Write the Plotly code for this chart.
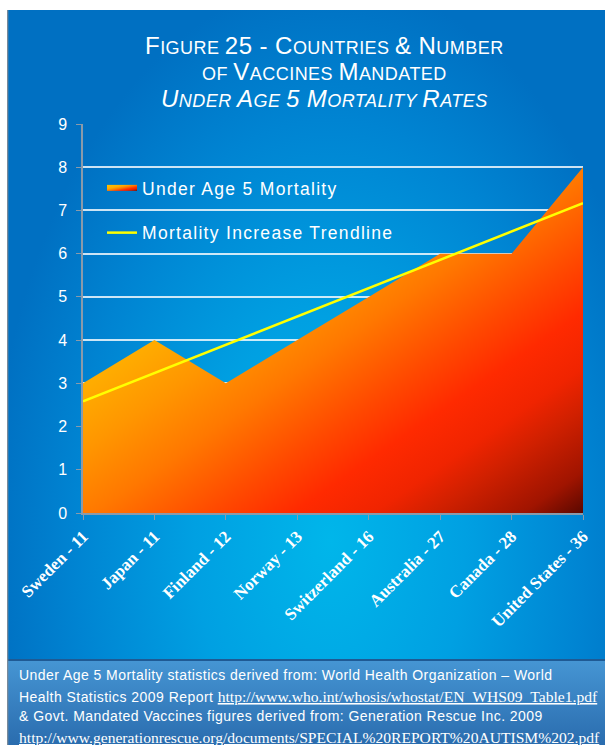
import base64
import numpy as np
import plotly.graph_objects as go

# ---------------- data ----------------
categories = ["Sweden - 11", "Japan - 11", "Finland - 12", "Norway - 13",
              "Switzerland - 16", "Australia - 27", "Canada - 28", "United States - 36"]
mortality = [3, 4, 3, 4, 5, 6, 6, 8]
y_ticks = [0, 1, 2, 3, 4, 5, 6, 7, 8, 9]
series_names = ["Under Age 5 Mortality", "Mortality Increase Trendline"]

# linear trendline (least squares) of the mortality series
idx = np.arange(len(mortality))
slope, intercept = np.polyfit(idx, mortality, 1)
trend_x = [categories[0], categories[-1]]
trend_y = [intercept, intercept + slope * idx[-1]]

# ---------------- geometry ----------------
W, H = 605, 745
L, R, T, B = 83, 583, 124, 513          # plot area pixels


def px(x):
    return (x - L) / (R - L)


def py(y):
    return (B - y) / (B - T)


SANS = "'Liberation Sans', Arial, sans-serif"
SERIF = "'Liberation Serif', 'Times New Roman', serif"

area_stops = [[0.0, "#FFC400"], [0.32, "#FFAC00"], [0.41, "#FF9600"], [0.51, "#FF7800"],
              [0.63, "#FF4800"], [0.71, "#FF2A00"], [0.79, "#F02400"], [0.85, "#D02000"],
              [0.94, "#A01400"], [1.0, "#5A0800"]]


def svg_uri(svg):
    return "data:image/svg+xml;base64," + base64.b64encode(svg.encode()).decode()


panel_svg = """<svg xmlns="http://www.w3.org/2000/svg" width="598" height="649" viewBox="0 0 598 649" preserveAspectRatio="none">
<defs><radialGradient id="r" gradientUnits="userSpaceOnUse" cx="0" cy="0" r="1" gradientTransform="translate(323,530) scale(340,560)">
<stop offset="0" stop-color="#00B6EA"/><stop offset="0.4" stop-color="#00A0E2"/><stop offset="0.75" stop-color="#0084D2"/><stop offset="1" stop-color="#0070C2"/></radialGradient></defs>
<rect width="598" height="649" fill="#0070C2"/>
<rect width="598" height="649" fill="url(#r)"/>
<rect x="0" y="0" width="1.3" height="649" fill="#7a8a9a"/>
</svg>"""

caption_svg = """<svg xmlns="http://www.w3.org/2000/svg" width="598" height="86" viewBox="0 0 598 86" preserveAspectRatio="none">
<defs><linearGradient id="c" x1="0" y1="0" x2="0" y2="1">
<stop offset="0" stop-color="#4696D4"/><stop offset="1" stop-color="#2A6CAE"/></linearGradient></defs>
<rect width="598" height="86" fill="url(#c)"/>
<rect width="598" height="2" fill="#1F5A94"/>
<rect x="0" y="0" width="1.3" height="86" fill="#7a8a9a"/>
</svg>"""

fig = go.Figure()

leg_ls = "letter-spacing:1.3px"
fig.add_trace(go.Scatter(
    x=categories, y=mortality, mode="none", fill="tozeroy",
    fillgradient=dict(type="horizontal", colorscale=area_stops),
    name=f'<span style="{leg_ls}">' + series_names[0] + '</span>',
    legendgroup="a", hoverinfo="skip"))

fig.add_trace(go.Scatter(
    x=trend_x, y=trend_y, mode="lines", line=dict(color="#FFFF00", width=2.5),
    name=f'<span style="{leg_ls}">' + series_names[1] + '</span>',
    legendgroup="b", hoverinfo="skip"))

ls = "letter-spacing:0.45px"
big = 'font-size:24px'
title_lines = [
    f'<span style="{ls}"><span style="{big}">F</span>IGURE <span style="{big}">25 - C</span>OUNTRIES '
    f'<span style="{big}">&amp; N</span>UMBER</span>',
    f'<span style="{ls}">OF <span style="{big}">V</span>ACCINES <span style="{big}">M</span>ANDATED</span>',
    f'<i><span style="{ls}"><span style="{big}">U</span>NDER <span style="{big}">A</span>GE '
    f'<span style="{big}">5 M</span>ORTALITY <span style="{big}">R</span>ATES</span></i>',
]
title_y = [45, 71, 98]

annotations = []
for t, yy in zip(title_lines, title_y):
    annotations.append(dict(text=t, x=px(324), y=py(yy), xref="paper", yref="paper",
                            xanchor="center", yanchor="middle", showarrow=False,
                            font=dict(family=SANS, size=18, color="white")))

cap_sans = f"font-family:{SANS};font-size:14px;letter-spacing:0.45px"
cap_lines = [
    f'<span style="{cap_sans}">Under Age 5 Mortality statistics derived from: World Health Organization \u2013 World</span>',
    f'<span style="{cap_sans}">Health Statistics 2009 Report </span>'
    f'<u>http://www.who.int/whosis/whostat/EN_WHS09_Table1.pdf</u>',
    f'<span style="{cap_sans}">&amp; Govt. Mandated Vaccines figures derived from: Generation Rescue Inc. 2009</span>',
    '<u>http://www.generationrescue.org/documents/SPECIAL%20REPORT%20AUTISM%202.pdf</u>',
]
cap_y = [675, 696, 716, 737]
for t, yy in zip(cap_lines, cap_y):
    annotations.append(dict(text=t, x=px(17), y=py(yy), xref="paper", yref="paper",
                            xanchor="left", yanchor="middle", showarrow=False,
                            font=dict(family=SERIF, size=15.6, color="white")))

fig.update_layout(
    width=W, height=H,
    margin=dict(l=L, r=W - R, t=T, b=H - B),
    paper_bgcolor="white", plot_bgcolor="rgba(0,0,0,0)",
    showlegend=True,
    legend=dict(x=px(102), y=py(170), xanchor="left", yanchor="top",
                bgcolor="rgba(0,0,0,0)", traceorder="grouped", tracegroupgap=19,
                font=dict(family=SANS, size=17.5, color="white")),
    annotations=annotations,
    images=[
        dict(source=svg_uri(panel_svg), xref="paper", yref="paper", x=px(7), y=py(10),
             sizex=598 / (R - L), sizey=649 / (B - T), xanchor="left", yanchor="top",
             sizing="stretch", layer="below"),
        dict(source=svg_uri(caption_svg), xref="paper", yref="paper", x=px(7), y=py(659),
             sizex=598 / (R - L), sizey=86 / (B - T), xanchor="left", yanchor="top",
             sizing="stretch", layer="below"),
    ],
    xaxis=dict(type="category", range=[0, len(categories) - 1], showgrid=False,
               showline=True, linecolor="#8A9AAA", linewidth=1.5,
               ticks="outside", ticklen=5, tickcolor="#8A9AAA", tickangle=-45,
               tickfont=dict(family=SERIF, size=17, color="white", weight="bold"),
               zeroline=False),
    yaxis=dict(range=[0, 9], tickvals=y_ticks, showgrid=True,
               gridcolor="rgba(255,255,255,0.8)", gridwidth=1.5,
               showline=True, linecolor="#8A9AAA", linewidth=1.5,
               ticks="outside", ticklen=5, tickcolor="#8A9AAA", ticklabelstandoff=6,
               tickfont=dict(family=SANS, size=16, color="white"), zeroline=False),
)

stops_js = "[" + ",".join(f"[{s},'{c}']" for s, c in area_stops) + "]"
post = """
document.body.style.margin = '0';
document.body.style.padding = '0';
var gd = document.getElementById('{plot_id}');
function fixGrad(){
  var stops = STOPS;
  var grads = gd.querySelectorAll('linearGradient');
  grads.forEach(function(g){
    if(g.id.indexOf('fill') < 0) return;
    while(g.firstChild) g.removeChild(g.firstChild);
    g.setAttribute('gradientUnits','objectBoundingBox');
    g.removeAttribute('gradientTransform');
    g.setAttribute('x1','0'); g.setAttribute('y1','0');
    g.setAttribute('x2','1'); g.setAttribute('y2','1');
    stops.forEach(function(s){
      var st = document.createElementNS('http://www.w3.org/2000/svg','stop');
      st.setAttribute('offset', s[0]); st.setAttribute('stop-color', s[1]);
      g.appendChild(st);
    });
  });
}
fixGrad();
gd.on('plotly_afterplot', fixGrad);
""".replace("STOPS", stops_js)

fig.write_html("out.html", post_script=post, config={"displayModeBar": False})
